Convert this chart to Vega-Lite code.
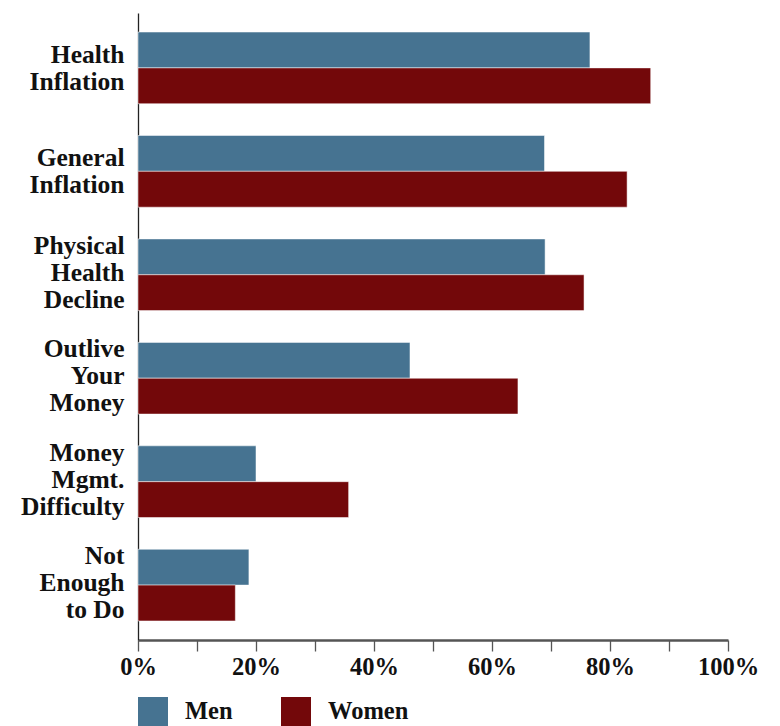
{
  "$schema": "https://vega.github.io/schema/vega-lite/v6.json",
  "autosize": "none",
  "width": 590,
  "height": 627,
  "padding": {"left": 138, "top": 13, "right": 52, "bottom": 86},
  "background": "white",
  "config": {
    "view": {"stroke": null},
    "font": "Liberation Serif"
  },
  "data": {
    "values": [
      {"category": "Health Inflation", "sex": "Men", "value": 0.766},
      {"category": "Health Inflation", "sex": "Women", "value": 0.869},
      {"category": "General Inflation", "sex": "Men", "value": 0.689},
      {"category": "General Inflation", "sex": "Women", "value": 0.829},
      {"category": "Physical Health Decline", "sex": "Men", "value": 0.690},
      {"category": "Physical Health Decline", "sex": "Women", "value": 0.756},
      {"category": "Outlive Your Money", "sex": "Men", "value": 0.461},
      {"category": "Outlive Your Money", "sex": "Women", "value": 0.644},
      {"category": "Money Mgmt. Difficulty", "sex": "Men", "value": 0.200},
      {"category": "Money Mgmt. Difficulty", "sex": "Women", "value": 0.357},
      {"category": "Not Enough to Do", "sex": "Men", "value": 0.188},
      {"category": "Not Enough to Do", "sex": "Women", "value": 0.165}
    ]
  },
  "mark": {"type": "bar", "stroke": "#ffffff", "strokeOpacity": 0.5, "strokeWidth": 1},
  "encoding": {
    "y": {
      "field": "category",
      "type": "nominal",
      "sort": ["Health Inflation", "General Inflation", "Physical Health Decline", "Outlive Your Money", "Money Mgmt. Difficulty", "Not Enough to Do"],
      "scale": {"paddingInner": 0.307, "paddingOuter": 0.184},
      "axis": {
        "title": null,
        "ticks": false,
        "domainColor": "#222222",
        "domainWidth": 1.3,
        "labelPadding": 14,
        "labelFontSize": 25.5,
        "labelFontWeight": "bold",
        "labelColor": "#111111",
        "labelLineHeight": 27,
        "labelOffset": {
          "condition": {"test": "datum.value == 'Health Inflation' || datum.value == 'General Inflation'", "value": -13},
          "value": -29
        },
        "labelExpr": "datum.value == 'Not Enough to Do' ? ['Not', 'Enough', 'to Do'] : split(datum.value, ' ')",
        "labelLimit": 200
      }
    },
    "yOffset": {
      "field": "sex",
      "type": "nominal",
      "sort": ["Men", "Women"],
      "scale": {"paddingInner": 0, "paddingOuter": 0}
    },
    "x": {
      "field": "value",
      "type": "quantitative",
      "scale": {"domain": [0, 1], "nice": false},
      "axis": {
        "title": null,
        "grid": false,
        "values": [0, 0.1, 0.2, 0.3, 0.4, 0.5, 0.6, 0.7, 0.8, 0.9, 1],
        "format": ".0%",
        "labelExpr": "round(datum.value * 10) % 2 == 0 ? datum.label : ''",
        "domainColor": "#555555",
        "domainWidth": 2.5,
        "tickColor": "#555555",
        "tickWidth": 1.3,
        "tickSize": 11,
        "labelPadding": 4,
        "labelFontSize": 24.5,
        "labelFontWeight": "bold",
        "labelColor": "#111111",
        "labelFlush": false
      }
    },
    "color": {
      "field": "sex",
      "type": "nominal",
      "sort": ["Men", "Women"],
      "scale": {"domain": ["Men", "Women"], "range": ["#467391", "#73080a"]},
      "legend": {
        "title": null,
        "orient": "none",
        "legendX": 0,
        "legendY": 684,
        "direction": "horizontal",
        "symbolType": "square",
        "symbolSize": 900,
        "symbolStrokeWidth": 0,
        "labelFontSize": 24.5,
        "labelFontWeight": "bold",
        "labelColor": "#111111",
        "labelOffset": 17,
        "columnPadding": 48,
        "padding": 0
      }
    }
  }
}
